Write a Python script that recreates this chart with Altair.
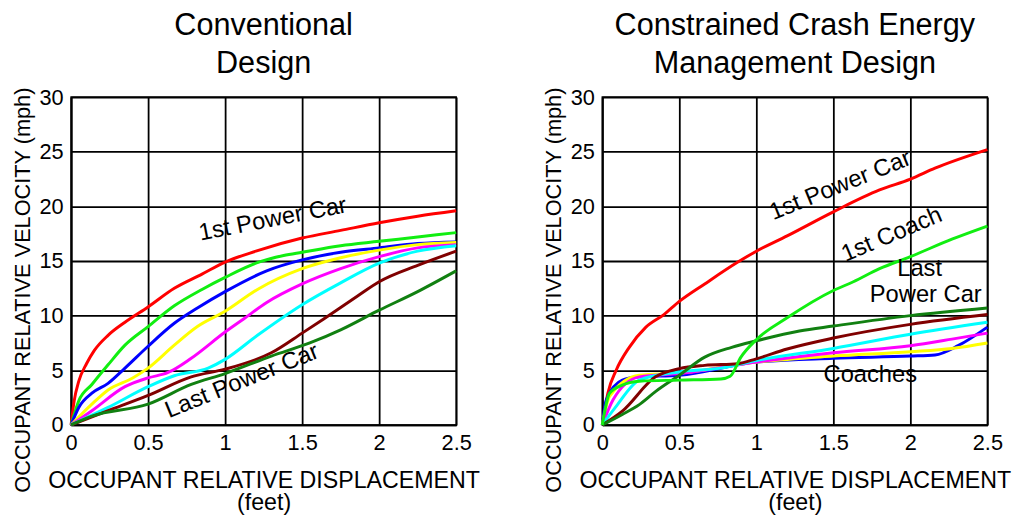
import altair as alt
import pandas as pd

FONT = "Liberation Sans"

# Curve identities and their stroke colours (shared by both panels)
SERIES = ["red", "lime", "blue", "yellow", "magenta", "cyan", "maroon", "darkgreen"]
COLORS = ["#ff0000", "#11ee11", "#0000ff", "#ffff00", "#ff00ff", "#00ffff", "#800000", "#118011"]

X_TICKS = [0, 0.5, 1, 1.5, 2, 2.5]
Y_TICKS = [0, 5, 10, 15, 20, 25, 30]

# ---- Conventional design: displacement (ft) / velocity (mph) per car ----
conv_red_x = [0, 0.02, 0.05, 0.1, 0.15, 0.24, 0.35, 0.5, 0.67, 0.85, 1.0, 1.2, 1.5, 1.75, 2.0, 2.25, 2.5]
conv_red_y = [0, 2.2, 4.0, 5.6, 6.8, 8.2, 9.4, 10.8, 12.5, 13.8, 14.9, 15.9, 17.1, 17.8, 18.5, 19.1, 19.6]
conv_lime_x = [0, 0.05, 0.135, 0.24, 0.35, 0.5, 0.67, 0.85, 1.0, 1.2, 1.38, 1.5, 1.75, 2.0, 2.25, 2.5]
conv_lime_y = [0, 2.2, 3.7, 5.5, 7.3, 9.0, 10.9, 12.4, 13.5, 14.8, 15.5, 15.8, 16.4, 16.8, 17.2, 17.6]
conv_blue_x = [0, 0.05, 0.135, 0.24, 0.35, 0.5, 0.67, 0.82, 1.0, 1.27, 1.5, 1.75, 2.0, 2.25, 2.5]
conv_blue_y = [0, 1.6, 2.9, 3.8, 5.2, 7.2, 9.3, 10.7, 12.2, 14.1, 15.1, 15.8, 16.2, 16.6, 16.75]
conv_yellow_x = [0, 0.135, 0.24, 0.4, 0.5, 0.67, 0.82, 1.0, 1.21, 1.5, 1.75, 2.0, 2.25, 2.5]
conv_yellow_y = [0, 1.9, 3.2, 4.3, 5.2, 7.3, 9.0, 10.4, 12.4, 14.3, 15.3, 16.0, 16.5, 16.7]
conv_magenta_x = [0, 0.135, 0.35, 0.5, 0.63, 0.78, 1.0, 1.12, 1.27, 1.5, 1.75, 2.0, 2.25, 2.5]
conv_magenta_y = [0, 1.3, 3.5, 4.3, 4.8, 6.1, 8.5, 9.7, 11.2, 12.9, 14.3, 15.4, 16.2, 16.5]
conv_cyan_x = [0, 0.24, 0.5, 0.67, 0.89, 1.0, 1.21, 1.5, 1.75, 2.0, 2.25, 2.5]
conv_cyan_y = [0, 1.6, 3.5, 4.5, 5.2, 6.0, 8.2, 11.0, 13.0, 14.8, 15.9, 16.4]
conv_maroon_x = [0, 0.24, 0.5, 0.78, 1.0, 1.3, 1.5, 1.64, 1.86, 2.0, 2.25, 2.5]
conv_maroon_y = [0, 1.3, 2.7, 4.4, 5.1, 6.6, 8.4, 9.7, 11.8, 13.1, 14.6, 15.9]
conv_dgreen_x = [0, 0.135, 0.5, 0.78, 1.0, 1.3, 1.55, 1.75, 2.0, 2.25, 2.5]
conv_dgreen_y = [0, 0.8, 1.9, 3.7, 4.7, 6.3, 7.5, 8.7, 10.5, 12.2, 14.1]

# ---- Constrained crash energy management design ----
cem_red_x = [0, 0.036, 0.09, 0.175, 0.28, 0.4, 0.5, 0.665, 0.88, 1.0, 1.2, 1.5, 1.8, 2.0, 2.16, 2.5]
cem_red_y = [0, 2.9, 5.0, 7.1, 8.9, 10.1, 11.3, 12.9, 14.9, 15.9, 17.3, 19.5, 21.5, 22.5, 23.5, 25.2]
cem_lime_x = [0, 0.047, 0.13, 0.24, 0.5, 0.77, 0.83, 0.9, 1.0, 1.2, 1.5, 1.63, 1.8, 2.0, 2.27, 2.5]
cem_lime_y = [0, 2.9, 3.65, 4.0, 4.1, 4.2, 4.45, 6.2, 7.8, 9.8, 12.3, 13.1, 14.3, 15.4, 17.0, 18.2]
cem_blue_x = [0, 0.026, 0.13, 0.24, 0.5, 1.0, 1.5, 2.0, 2.16, 2.31, 2.5]
cem_blue_y = [0, 2.3, 4.1, 4.4, 4.55, 5.75, 6.1, 6.3, 6.4, 7.25, 8.95]
cem_yellow_x = [0, 0.047, 0.24, 0.5, 1.0, 1.5, 2.0, 2.27, 2.5]
cem_yellow_y = [0, 2.6, 4.55, 4.75, 5.75, 6.3, 6.7, 7.0, 7.5]
cem_magenta_x = [0, 0.07, 0.24, 0.5, 1.0, 1.5, 2.0, 2.27, 2.5]
cem_magenta_y = [0, 2.3, 4.4, 4.7, 5.75, 6.6, 7.25, 7.85, 8.4]
cem_cyan_x = [0, 0.09, 0.24, 0.5, 0.77, 1.0, 1.5, 2.0, 2.5]
cem_cyan_y = [0, 1.7, 4.1, 4.85, 5.2, 5.9, 7.0, 8.3, 9.4]
cem_maroon_x = [0, 0.13, 0.345, 0.5, 0.665, 0.88, 1.0, 1.2, 1.5, 2.0, 2.5]
cem_maroon_y = [0, 1.26, 4.4, 5.15, 5.45, 5.6, 6.05, 6.95, 7.95, 9.2, 10.1]
cem_dgreen_x = [0, 0.13, 0.24, 0.345, 0.5, 0.665, 0.84, 1.0, 1.28, 1.5, 2.0, 2.5]
cem_dgreen_y = [0, 0.96, 1.86, 3.05, 4.55, 6.2, 7.1, 7.7, 8.6, 9.05, 10.0, 10.7]

# ---- In-plot annotations ----
conv_note_text = ["1st Power Car", "Last Power Car"]
conv_note_x = [1.31, 1.11]
conv_note_y = [18.8, 4.0]
conv_note_angle = [349, 338]

cem_note_text = ["1st Power Car", "1st Coach", "Last", "Power Car", "Coaches"]
cem_note_x = [1.545, 1.88, 2.06, 2.10, 1.74]
cem_note_y = [21.9, 17.4, 14.3, 11.9, 4.6]
cem_note_angle = [338, 337, 0, 0, 0]

PLOT_W = 390
PLOT_H = 332


def curve_frame(pairs):
    rows = []
    for order, (name, xs, ys) in enumerate(pairs):
        for i, (xv, yv) in enumerate(zip(xs, ys)):
            rows.append({"series": name, "draw": order, "i": i, "disp": xv, "vel": yv})
    return pd.DataFrame(rows)


conv_df = curve_frame([
    ("red", conv_red_x, conv_red_y),
    ("lime", conv_lime_x, conv_lime_y),
    ("blue", conv_blue_x, conv_blue_y),
    ("yellow", conv_yellow_x, conv_yellow_y),
    ("magenta", conv_magenta_x, conv_magenta_y),
    ("cyan", conv_cyan_x, conv_cyan_y),
    ("maroon", conv_maroon_x, conv_maroon_y),
    ("darkgreen", conv_dgreen_x, conv_dgreen_y),
])

cem_df = curve_frame([
    ("red", cem_red_x, cem_red_y),
    ("blue", cem_blue_x, cem_blue_y),
    ("yellow", cem_yellow_x, cem_yellow_y),
    ("magenta", cem_magenta_x, cem_magenta_y),
    ("cyan", cem_cyan_x, cem_cyan_y),
    ("maroon", cem_maroon_x, cem_maroon_y),
    ("darkgreen", cem_dgreen_x, cem_dgreen_y),
    ("lime", cem_lime_x, cem_lime_y),
])

conv_notes = pd.DataFrame({"text": conv_note_text, "disp": conv_note_x,
                           "vel": conv_note_y, "angle": conv_note_angle})
cem_notes = pd.DataFrame({"text": cem_note_text, "disp": cem_note_x,
                          "vel": cem_note_y, "angle": cem_note_angle})


def panel(curves, notes, title_lines):
    x_enc = alt.X(
        "disp:Q",
        scale=alt.Scale(domain=[0, 2.5], nice=False, zero=False),
        axis=alt.Axis(values=X_TICKS, labelExpr="toString(datum.value)",
                      title=["OCCUPANT RELATIVE DISPLACEMENT", "(feet)"],
                      titleLineHeight=23, labelPadding=8, titlePadding=15,
                      labelFlush=False),
    )
    y_enc = alt.Y(
        "vel:Q",
        scale=alt.Scale(domain=[0, 30], nice=False),
        axis=alt.Axis(values=Y_TICKS, title="OCCUPANT RELATIVE VELOCITY (mph)",
                      labelPadding=8, titlePadding=5, labelFlush=False,
                      titleY=PLOT_H / 2 + 29),
    )
    lines = alt.Chart(curves).mark_line(strokeWidth=3, interpolate="monotone").encode(
        x=x_enc,
        y=y_enc,
        color=alt.Color("series:N", scale=alt.Scale(domain=SERIES, range=COLORS), legend=None),
        detail="draw:N",
        order="i:Q",
    )
    text = alt.Chart(notes).mark_text(font=FONT, fontSize=24, color="black",
                                      baseline="middle", align="center").encode(
        x="disp:Q",
        y="vel:Q",
        text="text:N",
        angle=alt.Angle("angle:Q", scale=None),
    )
    return alt.layer(lines, text).properties(
        width=PLOT_W,
        height=PLOT_H,
        title=alt.Title(title_lines, font=FONT, fontSize=31, fontWeight="normal",
                        lineHeight=39, color="black", anchor="middle",
                        frame="group", offset=6),
    )


left = panel(conv_df, conv_notes, ["Conventional", "Design"])
right = panel(cem_df, cem_notes, ["Constrained Crash Energy", "Management Design"])

chart = alt.hconcat(left, right, spacing=61).properties(
    padding={"left": 10, "top": 6, "right": 5, "bottom": 5},
    background="white",
).configure_view(
    stroke="black", strokeWidth=1.5
).configure_axis(
    labelFont=FONT, labelFontSize=22, labelColor="black",
    titleFont=FONT, titleFontSize=23.5, titleFontWeight="normal", titleColor="black",
    grid=True, gridColor="black", gridWidth=1.8, gridOpacity=1,
    domainColor="black", domainWidth=1.8, ticks=False,
).configure_axisY(
    titleFontSize=22,
)

chart.save("out.html", embed_options={"renderer": "svg", "actions": False})
